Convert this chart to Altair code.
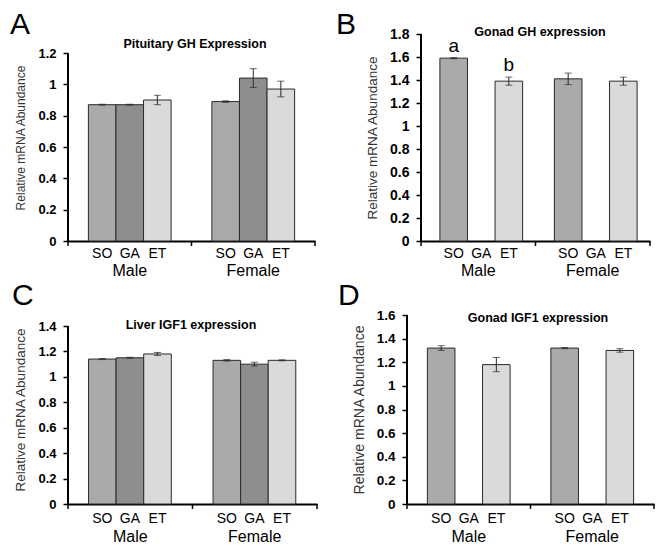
import altair as alt
import pandas as pd

sexes = ["Male", "Female"]
treatments = ["SO", "GA", "ET"]
fills = ["#aaaaaa", "#8e8e8e", "#dadada"]

# Panel A: Pituitary GH Expression
a_sex = ["Male", "Male", "Male", "Female", "Female", "Female"]
a_trt = ["SO", "GA", "ET", "SO", "GA", "ET"]
a_val = [0.87, 0.87, 0.90, 0.89, 1.04, 0.97]
a_err = [0.003, 0.003, 0.03, 0.005, 0.06, 0.05]
a_sig = ["", "", "", "", "", ""]

# Panel B: Gonad GH expression
b_sex = ["Male", "Male", "Female", "Female"]
b_trt = ["SO", "ET", "SO", "ET"]
b_val = [1.59, 1.39, 1.41, 1.39]
b_err = [0.005, 0.035, 0.05, 0.035]
b_sig = ["a", "b", "", ""]

# Panel C: Liver IGF1 expression
c_sex = ["Male", "Male", "Male", "Female", "Female", "Female"]
c_trt = ["SO", "GA", "ET", "SO", "GA", "ET"]
c_val = [1.14, 1.15, 1.18, 1.13, 1.10, 1.13]
c_err = [0.004, 0.004, 0.012, 0.006, 0.015, 0.004]
c_sig = ["", "", "", "", "", ""]

# Panel D: Gonad IGF1 expression
d_sex = ["Male", "Male", "Female", "Female"]
d_trt = ["SO", "ET", "SO", "ET"]
d_val = [1.32, 1.18, 1.32, 1.30]
d_err = [0.02, 0.06, 0.005, 0.015]
d_sig = ["", "", "", ""]

FONT = "Liberation Sans"
DARK = "#2a2a2a"


def panel(sex, trt, val, err, sig, title, letter, w, h, ymax, dom_max,
          title_pos, letter_pos, lab_size, ttl_size, trt_gap, sex_pad):
    df = pd.DataFrame({
        "sex": sex, "trt": trt, "val": val,
        "lo": [v - e for v, e in zip(val, err)],
        "hi": [v + e for v, e in zip(val, err)],
        "sig": sig,
    })
    lab = pd.DataFrame({
        "sex": [s for s in sexes for t in treatments],
        "trt": [t for s in sexes for t in treatments],
    })
    xscale = alt.Scale(domain=sexes, paddingInner=0.33, paddingOuter=0.165)
    xaxis = alt.Axis(title=None, labelAngle=0, labelFontSize=16,
                     labelPadding=sex_pad, ticks=False, labelColor="black",
                     domainColor="black", domainWidth=2)
    xs = alt.X("sex:N", scale=xscale, sort=sexes, axis=xaxis)
    xo = alt.XOffset("trt:N", scale=alt.Scale(domain=treatments,
                                               paddingInner=0, paddingOuter=0),
                     sort=treatments)
    ticks = [round(i * 0.2, 1) for i in range(int(ymax / 0.2 + 0.5) + 1)]
    yscale = alt.Scale(domain=[0, dom_max], nice=False)
    yaxis = alt.Axis(values=ticks, format=".1~f",
                     title="Relative mRNA Abundance",
                     labelFontSize=lab_size, labelFontWeight="bold",
                     labelColor="black", tickSize=5, tickColor="black",
                     tickWidth=1.5, labelPadding=7, domain=False,
                     titleFontSize=ttl_size,
                     titleFontWeight="normal", titleColor="#333333",
                     titlePadding=10, grid=False)

    def yy(field):
        return alt.Y(field, scale=yscale, axis=yaxis)

    bars = alt.Chart(df).mark_bar(stroke=DARK, strokeWidth=1).encode(
        x=xs, xOffset=xo, y=yy("val:Q"),
        fill=alt.Fill("trt:N", scale=alt.Scale(domain=treatments, range=fills),
                      legend=None),
    )
    ebar = alt.Chart(df).mark_rule(color=DARK, strokeWidth=1).encode(
        x=xs, xOffset=xo, y=yy("lo:Q"), y2="hi:Q")
    cap_lo = alt.Chart(df).mark_tick(color=DARK, size=7, thickness=1).encode(
        x=xs, xOffset=xo, y=yy("lo:Q"))
    cap_hi = alt.Chart(df).mark_tick(color=DARK, size=7, thickness=1).encode(
        x=xs, xOffset=xo, y=yy("hi:Q"))
    sigt = alt.Chart(df).mark_text(fontSize=19, baseline="bottom", dy=-2,
                                   color="black").encode(
        x=xs, xOffset=xo, y=yy("hi:Q"), text="sig:N")
    labs = alt.Chart(lab).mark_text(fontSize=14, baseline="top",
                                    color="black").encode(
        x=xs, xOffset=xo, y=alt.value(h + trt_gap), text="trt:N")
    dummy = pd.DataFrame({"t": [title], "l": [letter], "y0": [0.0], "y1": [ymax]})
    yline = alt.Chart(dummy).mark_rule(color="black", strokeWidth=2).encode(
        x=alt.value(0), y=yy("y0:Q"), y2="y1:Q")
    xt = []
    for px in (0, w / 2, w):
        xt.append(alt.Chart(dummy).mark_rule(color="black", strokeWidth=1.5).encode(
            x=alt.value(px), y=alt.value(h), y2=alt.value(h + 5)))
    ttl = alt.Chart(dummy).mark_text(fontSize=12.5, fontWeight="bold",
                                     baseline="middle", color="black").encode(
        x=alt.value(title_pos[0]), y=alt.value(title_pos[1]), text="t:N")
    let = alt.Chart(dummy).mark_text(fontSize=30, align="left",
                                     baseline="alphabetic",
                                     color="black").encode(
        x=alt.value(letter_pos[0]), y=alt.value(letter_pos[1]), text="l:N")
    return alt.layer(bars, ebar, cap_lo, cap_hi, sigt, labs, yline, *xt, ttl,
                     let).properties(width=w, height=h)


# row 1: common plot top 33, bottom 240 (height 207)
A = panel(a_sex, a_trt, a_val, a_err, a_sig, "Pituitary GH Expression", "A",
          247, 207, 1.2, 1.2 * 207 / 188, (127, 10), (-58, 0), 13, 12, 6, 21)
B = panel(b_sex, b_trt, b_val, b_err, b_sig, "Gonad GH expression", "B",
          229, 207, 1.8, 1.8, (119, -2), (-85, 0), 14, 13.5, 6, 21)
# row 2: common plot top 315, bottom 504 (height 189)
C = panel(c_sex, c_trt, c_val, c_err, c_sig, "Liver IGF1 expression", "C",
          249, 189, 1.4, 1.4 * 189 / 178, (123, 10), (-56, -10), 13, 13.5, 8, 24)
D = panel(d_sex, d_trt, d_val, d_err, d_sig, "Gonad IGF1 expression", "D",
          247, 189, 1.6, 1.6, (131, 3), (-69, -10), 13.5, 14, 8, 24)

chart = alt.vconcat(
    alt.hconcat(A, B, spacing=20),
    alt.hconcat(C, D, spacing=20),
    spacing=3,
).properties(padding={"left": 2, "top": 2, "right": 0, "bottom": 0}).configure(
    font=FONT
).configure_view(stroke=None).configure_axis(grid=False)

chart.save("out.html", embed_options={"renderer": "svg", "actions": False})
